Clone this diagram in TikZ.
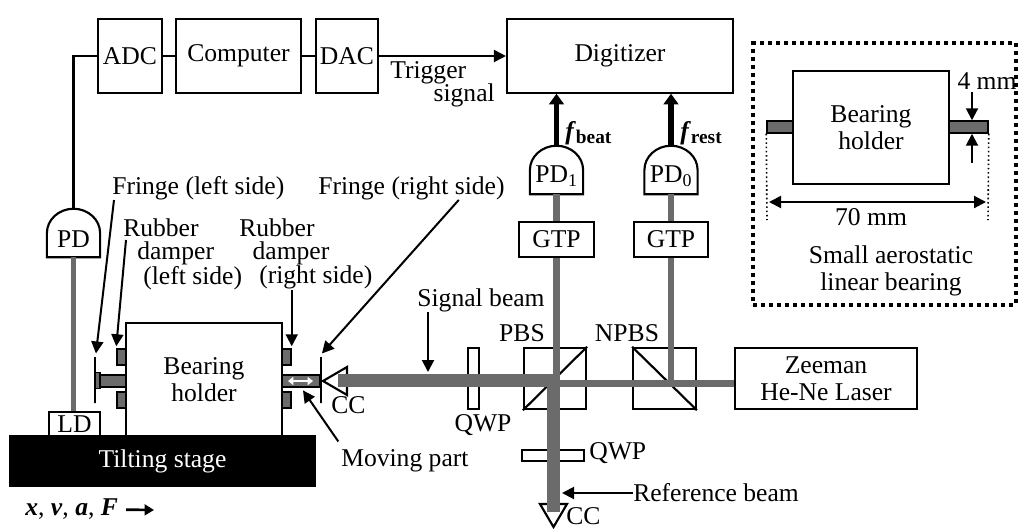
\documentclass[tikz,border=0pt]{standalone}
\usepackage{fontspec}
\setmainfont{Liberation Serif}
\usetikzlibrary{arrows.meta,calc}
\definecolor{beamgray}{gray}{0.42}
\tikzset{
    txt/.style={inner sep=0pt,align=center},
    box/.style={draw,line width=1.6pt,fill=white,inner sep=0pt,align=center},
    part/.style={draw,line width=1.1pt,fill=beamgray,inner sep=0pt},
    pdbox/.style={inner sep=0pt,minimum width=39.5pt,minimum height=36pt},
    wire/.style={line width=1.6pt},
    pointer/.style={line width=1.5pt,-{Triangle[length=9pt,width=9pt]}},
    beamthin/.style={beamgray,line width=5pt},
    beamthick/.style={beamgray,line width=10pt},
    beamfine/.style={beamgray,line width=3.4pt},
    signalarrow/.style={line width=4pt,-{Triangle[length=8pt,width=11pt]}}
}
\newcommand{\pdoutline}[1]{
    \draw[line width=1.6pt,fill=white] (#1.south west) -- (#1.west)
        .. controls ($(#1.west)!0.55!(#1.north west)$) and ($(#1.north)!0.55!(#1.north west)$) .. (#1.north)
        .. controls ($(#1.north)!0.55!(#1.north east)$) and ($(#1.east)!0.55!(#1.north east)$) .. (#1.east)
        -- (#1.south east) -- cycle;
}
\begin{document}
\begin{tikzpicture}[x=0.75pt,y=-0.75pt,font=\fontsize{19.2}{20}\selectfont]
    \useasboundingbox (0,0) rectangle (1020,529);

    \node[box,minimum width=48pt,minimum height=55pt] (adc) at (130,56) {ADC};
    \node[box,minimum width=94pt,minimum height=55pt] (computer) at (238.5,56) {Computer};
    \node[box,minimum width=46.5pt,minimum height=55pt] (dac) at (347,56) {DAC};
    \node[box,minimum width=169.5pt,minimum height=55pt] (digitizer) at (620,56) {Digitizer};
    \draw[wire] (adc) -- (computer);
    \draw[wire] (computer) -- (dac);
    \draw[pointer] (dac) -- (digitizer);
    \node[txt,anchor=west] (trigger) at (390,73) {Trigger};
    \node[txt,anchor=east] (signal) at (495,95) {signal};

    \node[box,fill=black,minimum width=228.75pt,minimum height=37.5pt,text=white] (stage) at (162.5,461) {Tilting stage};
    \node[box,minimum width=38.25pt,minimum height=18pt] (ld) at (74.5,424) {LD};
    \node[box,minimum width=117pt,minimum height=84.75pt] (holder) at (204,379.5) {Bearing\\holder};
    \node[part,minimum width=6.75pt,minimum height=12pt] (damperlu) at (121.5,357) {};
    \node[part,minimum width=6.75pt,minimum height=12pt] (damperld) at (121.5,400) {};
    \node[part,minimum width=6.75pt,minimum height=12pt] (damperru) at (286.5,357) {};
    \node[part,minimum width=6.75pt,minimum height=12pt] (damperrd) at (286.5,400) {};
    \node[part,minimum width=19.5pt,minimum height=9pt] (shaftleft) at (113,381) {};
    \node[part,minimum width=28.5pt,minimum height=9pt] (shaftright) at (301,381) {};
    \node[part,minimum width=3.75pt,minimum height=12pt] (blockleft) at (97.5,380.5) {};
    \node[draw,line width=1.3pt,inner sep=0pt,minimum width=0pt,minimum height=34.5pt] (plateleft) at (95,380) {};
    \node[draw,line width=1.3pt,inner sep=0pt,minimum width=0pt,minimum height=34.5pt] (plateright) at (321,380) {};
    \draw[white,line width=1.2pt,{Triangle[length=4pt,width=6pt]}-{Triangle[length=4pt,width=6pt]}] (288,381) -- (313,381);

    \node[pdbox] (pd) at (73.5,233) {};
    \pdoutline{pd}
    \node[txt] (pdlabel) at (73.5,239) {PD};
    \draw[wire] (adc.west) -| (pd.north);
    \draw[beamfine] (pd.south) -- (pd.south |- ld.north);

    \node[box,minimum width=8.25pt,minimum height=46pt] (qwpsignal) at (473.5,378.5) {};
    \node[box,minimum width=46.5pt,minimum height=46pt] (pbs) at (555,378.5) {};
    \node[box,minimum width=47pt,minimum height=46pt] (npbs) at (664.5,378.5) {};
    \node[box,minimum width=46.5pt,minimum height=8.25pt] (qwpref) at (553,455.5) {};
    \node[box,minimum width=136.5pt,minimum height=46pt] (laser) at (826,378.5) {Zeeman\\He-Ne Laser};
    \draw[wire] (pbs.south west) -- (pbs.north east);
    \draw[wire] (npbs.north west) -- (npbs.south east);

    \node[box,minimum width=56.25pt,minimum height=26.25pt] (gtpone) at (556.5,239.5) {GTP};
    \node[box,minimum width=56pt,minimum height=26.25pt] (gtpzero) at (671,239.5) {GTP};
    \node[pdbox] (pdone) at (556.5,170) {};
    \node[pdbox] (pdzero) at (671,170) {};
    \pdoutline{pdone}
    \pdoutline{pdzero}
    \node[txt] (pdonelabel) at (556.5,176) {PD\textsubscript{1}};
    \node[txt] (pdzerolabel) at (671,176) {PD\textsubscript{0}};

    \coordinate (ccleftin) at (338,380.5);
    \coordinate (ccbottomin) at (553.5,512);
    \coordinate (pbsthick) at (553.5,380.5);
    \coordinate (pbsthin) at (556.5,383.5);
    \coordinate (npbsthin) at (671,383.5);
    \draw[line width=1.6pt,fill=white] (323,381) -- (347,367) -- (347,395) -- cycle;
    \draw[line width=1.6pt,fill=white] (540,504) -- (567,504) -- (553.5,527) -- cycle;
    \draw[beamthin] (laser.west |- pbsthin) -- ($(pbsthin)+(-6,0)$);
    \draw[beamthin] (pbsthin |- pbs.south) -- (gtpone.south);
    \draw[beamthin] (npbsthin) -- (gtpzero.south);
    \draw[beamthick] (ccleftin) -- ($(pbsthick)+(6.5,0)$);
    \draw[beamthick] (pbsthick) -- (ccbottomin);
    \draw[beamthin] (gtpone.north) -- (pdone.south);
    \draw[beamthin] (gtpzero.north) -- (pdzero.south);

    \draw[signalarrow] (pdone.north) -- (pdone.north |- digitizer.south);
    \draw[signalarrow] (pdzero.north) -- (pdzero.north |- digitizer.south);
    \node[txt,anchor=west] (fbeat) at (565,133) {\textbf{\textit{f}}\raisebox{-3pt}{\fontsize{14.5}{15}\selectfont\textbf{beat}}};
    \node[txt,anchor=west] (frest) at (680,133) {\textbf{\textit{f}}\raisebox{-3pt}{\fontsize{14.5}{15}\selectfont\textbf{rest}}};

    \node[txt,anchor=west] (fringeleft) at (112,188) {Fringe (left side)};
    \node[txt,anchor=west] (fringeright) at (318,188) {Fringe (right side)};
    \node[txt,anchor=west,align=left,font=\fontsize{19.2}{17.3}\selectfont] (rubberleft) at (123,254) {Rubber\\\hspace*{10.5pt}damper\\\hspace*{15pt}(left side)};
    \node[txt,anchor=west,align=left,font=\fontsize{19.2}{17.3}\selectfont] (rubberright) at (239,254) {Rubber\\\hspace*{10pt}damper\\\hspace*{15pt}(right side)};
    \node[txt,anchor=west] (movingpart) at (341,461) {Moving part};
    \node[txt] (signalbeam) at (481,300) {Signal beam};
    \node[txt,anchor=west] (referencebeam) at (633,493) {Reference beam};
    \node[txt] (pbslabel) at (522,333) {PBS};
    \node[txt] (npbslabel) at (627,333) {NPBS};
    \node[txt] (qwpsignallabel) at (483,425) {QWP};
    \node[txt,anchor=west] (qwpreflabel) at (589,453) {QWP};
    \node[txt,anchor=west] (ccleft) at (331,405) {CC};
    \node[txt,anchor=west] (ccbottom) at (566,516) {CC};
    \node[txt,anchor=west] (xvaf) at (25,509) {\textbf{\textit{x}}, \textbf{\textit{v}}, \textbf{\textit{a}}, \textbf{\textit{F}}};

    \coordinate (rubberleftfoot) at (126,240);
    \coordinate (signalbeamfoot) at (428,312);
    \coordinate (signalbeamtip) at (428,372);
    \coordinate (referencetip) at (562,493);
    \coordinate (xvaftip) at (154,510);
    \draw[pointer] ([xshift=1.5pt]fringeleft.south west) -- ([xshift=0.7pt,yshift=2pt]plateleft.north);
    \draw[pointer] (rubberleftfoot) -- ([yshift=1.5pt]damperlu.north west);
    \draw[pointer] (rubberright.south -| damperru.north east) -- ([yshift=1.5pt]damperru.north east);
    \draw[pointer] ([xshift=-34.5pt]fringeright.south east) -- ([xshift=0.7pt,yshift=2pt]plateright.north);
    \draw[pointer] ([xshift=-2pt,yshift=6pt]movingpart.north west) -- ([xshift=1.5pt,yshift=-2pt]shaftright.south);
    \draw[pointer] (signalbeamfoot) -- (signalbeamtip);
    \draw[pointer] (referencebeam.west) -- (referencetip);
    \draw[line width=2pt,-{Triangle[length=7pt,width=8pt]}] ([xshift=6pt,yshift=-0.5pt]xvaf.east) -- (xvaftip);

    \node[draw,line width=3pt,dash pattern=on 3pt off 3pt,inner sep=0pt,minimum width=197pt,minimum height=196pt] (inset) at (884.5,174) {};
    \node[box,minimum width=117pt,minimum height=84.75pt] (insetholder) at (871,127.5) {Bearing\\holder};
    \node[part,minimum width=19.5pt,minimum height=9pt] (insetshaftleft) at (780,127) {};
    \node[part,minimum width=29.25pt,minimum height=9pt] (insetshaftright) at (968.5,127) {};
    \coordinate (dimleft) at (767,220);
    \coordinate (dimright) at (988,220);
    \coordinate (thicktop) at (972,92);
    \coordinate (thickbottom) at (972,163);
    \draw[line width=1.2pt,dotted] (insetshaftleft.south west) -- (dimleft);
    \draw[line width=1.2pt,dotted] (insetshaftright.south east) -- (dimright);
    \draw[line width=1.5pt,{Triangle[length=9pt,width=9pt]}-{Triangle[length=9pt,width=9pt]}] (769,202) -- (986,202);
    \draw[pointer] (thicktop) -- (thicktop |- insetshaftright.north);
    \draw[pointer] (thickbottom) -- (thickbottom |- insetshaftright.south);
    \node[txt] (seventy) at (871,217) {70 mm};
    \node[txt] (four) at (987,81) {4 mm};
    \node[txt,font=\fontsize{19.2}{20.2}\selectfont] (insetcaption) at (891,271) {Small aerostatic\\linear bearing};
\end{tikzpicture}
\end{document}
